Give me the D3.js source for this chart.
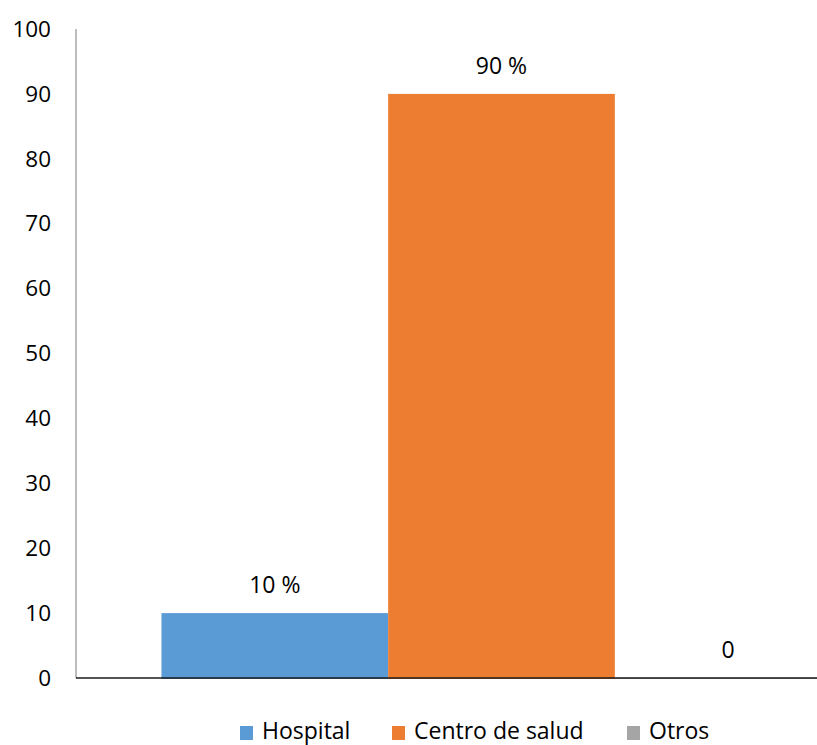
<!DOCTYPE html>
<html>
<head>
<meta charset="utf-8">
<script src="https://cdn.jsdelivr.net/npm/d3@7"></script>
<style>
  html, body { margin: 0; padding: 0; background: #fff; }
  svg { display: block; font-family: "Open Sans", sans-serif; }
</style>
</head>
<body>
<svg id="chart" width="817" height="745"></svg>
<script>
// Lugar de atención
const series = ["Hospital", "Centro de salud", "Otros"];
const values = [10, 90, 0];
const valueLabels = ["10 %", "90 %", "0"];
const colors = ["#5B9BD5", "#ED7D31", "#A5A5A5"];
const yTicks = [0, 10, 20, 30, 40, 50, 60, 70, 80, 90, 100];

const svg = d3.select("#chart");
const plot = { left: 76, right: 927, top: 29, bottom: 678 };

const y = d3.scaleLinear().domain([0, 100]).range([plot.bottom, plot.top]);
const x = d3.scaleBand().domain(series)
  .range([plot.left, plot.right])
  .paddingInner(0).paddingOuter(0.377);

// Y axis labels
const yAxis = d3.axisLeft(y).tickValues(yTicks).tickSize(0).tickPadding(25);
const gy = svg.append("g").attr("transform", `translate(${plot.left},0)`).call(yAxis);
gy.select(".domain").remove();
gy.selectAll("text").attr("font-size", 22.5).attr("fill", "#000")
  .attr("font-family", "'Open Sans', sans-serif");

// Y axis line
svg.append("line")
  .attr("x1", plot.left).attr("x2", plot.left)
  .attr("y1", plot.top).attr("y2", plot.bottom)
  .attr("stroke", "#A6A6A6").attr("stroke-width", 1.5);

// Bars
svg.append("g").selectAll("rect").data(series).join("rect")
  .attr("x", d => x(d))
  .attr("width", x.bandwidth())
  .attr("y", (d, i) => y(values[i]))
  .attr("height", (d, i) => y(0) - y(values[i]) + 1)
  .attr("fill", (d, i) => colors[i]);

// X axis line
svg.append("line")
  .attr("x1", plot.left).attr("x2", plot.right)
  .attr("y1", plot.bottom).attr("y2", plot.bottom)
  .attr("stroke", "#1a1a1a").attr("stroke-width", 1.3);

// Value labels
svg.append("g").selectAll("text").data(series).join("text")
  .attr("x", d => x(d) + x.bandwidth() / 2)
  .attr("y", (d, i) => y(values[i]) - 26)
  .attr("text-anchor", "middle")
  .attr("dominant-baseline", "middle")
  .attr("font-size", 23)
  .attr("fill", "#000")
  .text((d, i) => valueLabels[i]);

// Legend
const legendX = [240, 392, 627];
const lg = svg.append("g").selectAll("g").data(series).join("g")
  .attr("transform", (d, i) => `translate(${legendX[i]},733)`);
lg.append("rect").attr("x", 0).attr("y", -7).attr("width", 13).attr("height", 14)
  .attr("fill", (d, i) => colors[i]);
lg.append("text").attr("x", 22).attr("y", 0)
  .attr("dominant-baseline", "middle")
  .attr("font-size", 23).attr("fill", "#000")
  .text(d => d);
</script>
</body>
</html>
